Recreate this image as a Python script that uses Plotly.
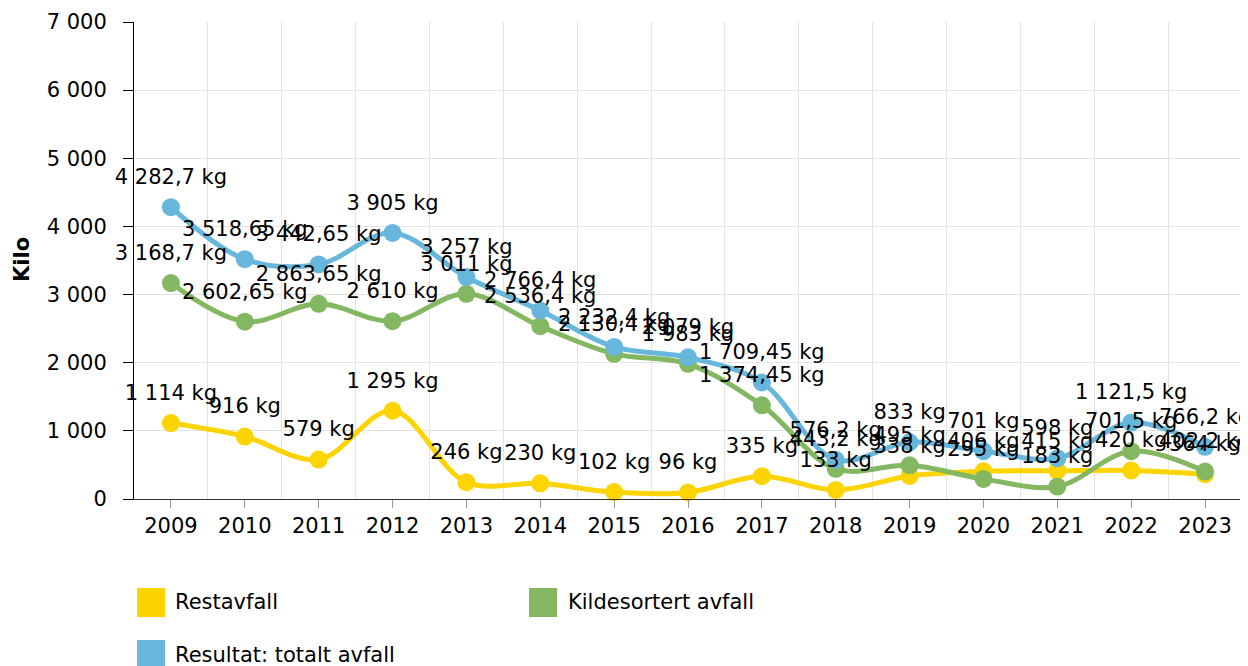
import plotly.graph_objects as go

years = ["2009", "2010", "2011", "2012", "2013", "2014", "2015", "2016",
         "2017", "2018", "2019", "2020", "2021", "2022", "2023"]
restavfall = [1114, 916, 579, 1295, 246, 230, 102, 96, 335, 133, 338, 406, 415, 420, 364]
kildesortert = [3168.7, 2602.65, 2863.65, 2610, 3011, 2536.4, 2130.4, 1983, 1374.45,
                443.2, 495, 295, 183, 701.5, 402.2]
totalt = [4282.7, 3518.65, 3442.65, 3905, 3257, 2766.4, 2232.4, 2079, 1709.45,
          576.2, 833, 701, 598, 1121.5, 766.2]

series_names = ["Restavfall", "Kildesortert avfall", "Resultat: totalt avfall"]
series_values = [restavfall, kildesortert, totalt]
colors = ["#fdd400", "#84b761", "#67b7dc"]

FONT = "DejaVu Sans"
FS = 21


def fmt(v):
    s = f"{v:,}"
    s = s.replace(",", " ").replace(".", ",")
    return s + " kg"


x = list(range(len(years)))

fig = go.Figure()
for name, vals, col in zip(series_names, series_values, colors):
    fig.add_trace(go.Scatter(
        x=x, y=vals, name=name, mode="lines+markers",
        line=dict(color=col, width=5, shape="spline", smoothing=1),
        marker=dict(color=col, size=18),
        showlegend=False, cliponaxis=False,
    ))
# data labels drawn above all series (transparent larger markers push the text a bit higher)
for name, vals in zip(series_names, series_values):
    fig.add_trace(go.Scatter(
        x=x, y=vals, name=name + " labels", mode="markers+text",
        marker=dict(size=27, color="rgba(0,0,0,0)"),
        text=[fmt(v) for v in vals],
        textposition="top center",
        textfont=dict(family=FONT, size=FS, color="#000"),
        cliponaxis=False, showlegend=False, hoverinfo="skip",
    ))

# page body has an 8px margin: compensate so the plot lands where the reference has it
fig.update_layout(
    width=1240, height=658,
    margin=dict(l=126, r=6, t=14, b=167, autoexpand=False),
    paper_bgcolor="white", plot_bgcolor="white",
    separators=", ",
    font=dict(family=FONT, size=FS, color="#000"),
    showlegend=False,
)

fig.update_xaxes(
    range=[-0.5, len(years) - 0.5],
    tickmode="array", tickvals=x, ticktext=years,
    ticks="outside", ticklen=8, tickcolor="#999", tickwidth=1,
    showgrid=False, zeroline=False, automargin=False,
    showline=True, linecolor="#333", linewidth=1,
    tickfont=dict(family=FONT, size=FS, color="#000"),
    minor=dict(tickmode="array", tickvals=[i - 0.5 for i in range(len(years) + 1)],
               showgrid=True, gridcolor="#e3e3e3", gridwidth=1, ticks=""),
)
fig.update_yaxes(
    range=[0, 7000], dtick=1000, tick0=0, tickformat=",",
    ticks="outside", ticklen=10, tickcolor="#000", tickwidth=1,
    showgrid=True, gridcolor="#e3e3e3", gridwidth=1, zeroline=False,
    showline=True, linecolor="#000", linewidth=1, automargin=False,
    ticklabelstandoff=12,
    tickfont=dict(family=FONT, size=FS, color="#000"),
)

pw, ph = 1108.0, 477.0
def px(v):
    return (v - 134) / pw
def py(v):
    return (499 - v) / ph

# Y axis title
fig.add_annotation(xref="paper", yref="paper", x=px(22), y=py(260),
                   xanchor="center", yanchor="middle", showarrow=False,
                   textangle=-90, text="<b>Kilo</b>",
                   font=dict(family=FONT, size=FS, color="#000"))

# Legend (square swatches + labels)
legend_items = [
    (137, 588, 617, 173, 602),
    (529, 588, 617, 566, 602),
    (137, 640, 668, 173, 655),
]
for (sx, sy0, sy1, tx, ty), name, col in zip(legend_items, series_names, colors):
    fig.add_shape(type="rect", xref="paper", yref="paper",
                  x0=px(sx), x1=px(sx + 28), y0=py(sy1), y1=py(sy0),
                  fillcolor=col, line=dict(width=0))
    fig.add_annotation(xref="paper", yref="paper", x=px(tx), y=py(ty),
                       xanchor="left", yanchor="middle", showarrow=False,
                       text=name, font=dict(family=FONT, size=FS, color="#000"))

fig.write_html("out.html")
